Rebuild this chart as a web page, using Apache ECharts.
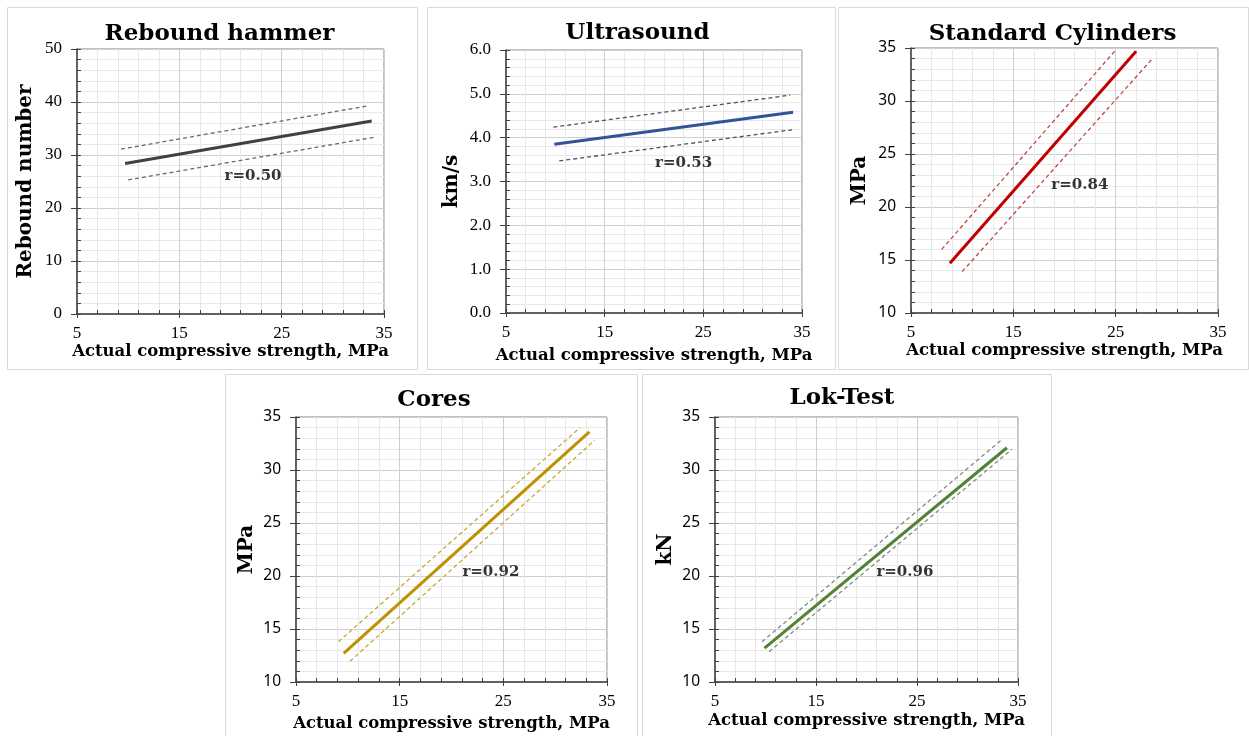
<!DOCTYPE html>
<html>
<head>
<meta charset="utf-8">
<script src="https://cdn.jsdelivr.net/npm/echarts@6/dist/echarts.min.js"></script>
<style>html,body{margin:0;padding:0;background:#fff}#c{width:1249px;height:736px}</style>
</head>
<body>
<div id="c"></div>
<script>
// ---- data ----
const xAxisTitle = 'Actual compressive strength, MPa';
const panelTitles = ['Rebound hammer', 'Ultrasound', 'Standard Cylinders', 'Cores', 'Lok-Test'];
const yAxisTitles = ['Rebound number', 'km/s', 'MPa', 'MPa', 'kN'];
const rLabels = ['r=0.50', 'r=0.53', 'r=0.84', 'r=0.92', 'r=0.96'];

const reboundFit = [[9.7, 28.4], [33.8, 36.4]];
const reboundUpper = [[9.3, 31.1], [33.5, 39.3]];
const reboundLower = [[10.0, 25.3], [34.2, 33.4]];
const reboundLabelPos = [22.2, 26.1];

const ultrasoundFit = [[9.9, 3.85], [34.1, 4.58]];
const ultrasoundUpper = [[9.8, 4.24], [33.8, 4.97]];
const ultrasoundLower = [[10.4, 3.47], [34.0, 4.18]];
const ultrasoundLabelPos = [23.0, 3.43];

const cylindersFit = [[8.8, 14.7], [27.0, 34.7]];
const cylindersUpper = [[8.0, 16.0], [24.9, 34.7]];
const cylindersLower = [[10.0, 13.9], [28.5, 33.9]];
const cylindersLabelPos = [21.5, 22.1];

const coresFit = [[9.6, 12.7], [33.3, 33.6]];
const coresUpper = [[9.1, 13.8], [32.4, 34.0]];
const coresLower = [[10.2, 11.95], [33.8, 32.8]];
const coresLabelPos = [23.8, 20.4];

const lokFit = [[9.9, 13.2], [33.9, 32.1]];
const lokUpper = [[9.65, 13.8], [33.5, 32.95]];
const lokLower = [[10.35, 12.85], [34.4, 31.95]];
const lokLabelPos = [23.8, 20.4];

// axis ranges
const xRange = [5, 35, 10];
const yRanges = [[0, 50, 10], [0, 6, 1], [10, 35, 5], [10, 35, 5], [10, 35, 5]];

// ---- layout / style ----
const panels = [
  {fit: reboundFit, up: reboundUpper, lo: reboundLower, lab: reboundLabelPos,
   color: '#404040', dash: '#6a6a6a', dec: 0, ySans: false,
   grid: [77, 49, 307, 265], box: [7, 7, 410, 362], t: [219.5, 34], xGap: 24, yGap: 41},
  {fit: ultrasoundFit, up: ultrasoundUpper, lo: ultrasoundLower, lab: ultrasoundLabelPos,
   color: '#2F5597', dash: '#44536e', dec: 1, ySans: false,
   grid: [506, 50, 296, 263], box: [427, 7, 408, 362], t: [637.5, 33], xGap: 34, yGap: 44},
  {fit: cylindersFit, up: cylindersUpper, lo: cylindersLower, lab: cylindersLabelPos,
   color: '#C00000', dash: '#b84a4a', dec: 0, ySans: true,
   grid: [911, 48, 307, 265], box: [838, 7, 410, 362], t: [1052.5, 34], xGap: 28, yGap: 41},
  {fit: coresFit, up: coresUpper, lo: coresLower, lab: coresLabelPos,
   color: '#BF9000', dash: '#c4a63a', dec: 0, ySans: true,
   grid: [296, 417, 311, 265], box: [225, 374, 412, 370], t: [434, 400.5], xGap: 33, yGap: 39},
  {fit: lokFit, up: lokUpper, lo: lokLower, lab: lokLabelPos,
   color: '#548235', dash: '#7d8c7d', dec: 0, ySans: true,
   grid: [715, 417, 303, 265], box: [642, 374, 409, 370], t: [842, 398.5], xGap: 30, yGap: 39}
];

const option = {animation: false, grid: [], xAxis: [], yAxis: [], series: [], graphic: []};
const serif = 'DejaVu Serif';
const tickSerif = 'Liberation Serif';

panels.forEach((p, i) => {
  option.graphic.push({type: 'rect', silent: true, z: -10,
    shape: {x: p.box[0] + 0.5, y: p.box[1] + 0.5, width: p.box[2], height: p.box[3]},
    style: {fill: 'none', stroke: '#d9d9d9', lineWidth: 1}});
  option.graphic.push({type: 'text', silent: true, x: p.t[0], y: p.t[1],
    style: {text: panelTitles[i], font: 'bold 23px "DejaVu Serif"', fill: '#000', align: 'center', verticalAlign: 'middle'}});

  option.grid.push({left: p.grid[0], top: p.grid[1], width: p.grid[2], height: p.grid[3],
    show: true, borderColor: '#808080', borderWidth: 1, backgroundColor: 'transparent'});

  const yr = yRanges[i];
  option.xAxis.push({gridIndex: i, type: 'value', min: xRange[0], max: xRange[1], interval: xRange[2], position: 'bottom',
    axisLine: {show: true, onZero: false, lineStyle: {color: '#404040', width: 1.5}},
    axisTick: {show: true, inside: false, length: 4, lineStyle: {color: '#404040'}},
    axisLabel: {margin: 11, color: '#000', fontFamily: tickSerif, fontSize: 17},
    splitLine: {show: true, lineStyle: {color: '#cfcfcf', width: 1}},
    minorTick: {show: false, splitNumber: 5},
    minorSplitLine: {show: true, lineStyle: {color: '#e8e8e8', width: 1}},
    name: xAxisTitle, nameLocation: 'middle', nameGap: p.xGap,
    nameTextStyle: {fontFamily: serif, fontWeight: 'bold', fontSize: 16.5, color: '#000'}});
  option.xAxis.push({gridIndex: i, type: 'value', min: xRange[0], max: xRange[1], interval: xRange[2], position: 'bottom',
    axisLine: {show: false, onZero: false},
    axisTick: {show: true, inside: true, length: 4, lineStyle: {color: '#404040'}},
    minorTick: {show: true, splitNumber: 5, length: 4, lineStyle: {color: '#404040'}},
    axisLabel: {show: false}, splitLine: {show: false}});

  option.yAxis.push({gridIndex: i, type: 'value', min: yr[0], max: yr[1], interval: yr[2], position: 'left',
    axisLine: {show: true, onZero: false, lineStyle: {color: '#404040', width: 1.5}},
    axisTick: {show: true, inside: false, length: 6, lineStyle: {color: '#404040'}},
    axisLabel: {margin: 15, color: '#000', fontFamily: p.ySans ? 'Noto Sans' : tickSerif, fontSize: p.ySans ? 15.5 : 17,
      formatter: v => v.toFixed(p.dec)},
    splitLine: {show: true, lineStyle: {color: '#cfcfcf', width: 1}},
    minorTick: {show: false, splitNumber: 5},
    minorSplitLine: {show: true, lineStyle: {color: '#e8e8e8', width: 1}},
    name: yAxisTitles[i], nameLocation: 'middle', nameGap: p.yGap,
    nameTextStyle: {fontFamily: serif, fontWeight: 'bold', fontSize: 20, color: '#000'}});
  option.yAxis.push({gridIndex: i, type: 'value', min: yr[0], max: yr[1], interval: yr[2], position: 'left',
    axisLine: {show: false, onZero: false},
    axisTick: {show: true, inside: true, length: 4, lineStyle: {color: '#404040'}},
    minorTick: {show: true, splitNumber: 5, length: 4, lineStyle: {color: '#404040'}},
    axisLabel: {show: false}, splitLine: {show: false}});

  const xi = 2 * i, yi = 2 * i;
  option.series.push({type: 'line', xAxisIndex: xi, yAxisIndex: yi, data: p.up, symbol: 'none', silent: true,
    lineStyle: {color: p.dash, width: 1.3, type: [4, 3]}, z: 3});
  option.series.push({type: 'line', xAxisIndex: xi, yAxisIndex: yi, data: p.lo, symbol: 'none', silent: true,
    lineStyle: {color: p.dash, width: 1.3, type: [4, 3]}, z: 3});
  option.series.push({type: 'line', xAxisIndex: xi, yAxisIndex: yi, data: p.fit, symbol: 'none', silent: true,
    lineStyle: {color: p.color, width: 3, cap: 'butt'}, z: 4});
  option.series.push({type: 'scatter', xAxisIndex: xi, yAxisIndex: yi, data: [p.lab], symbolSize: 1, silent: true,
    itemStyle: {color: 'transparent'}, z: 5,
    label: {show: true, position: 'inside', formatter: rLabels[i], color: '#000',
      fontFamily: serif, fontWeight: 'bold', fontSize: 15}});
});

const chart = echarts.init(document.getElementById('c'), null, {renderer: 'canvas'});
chart.setOption(option);
</script>
</body>
</html>
